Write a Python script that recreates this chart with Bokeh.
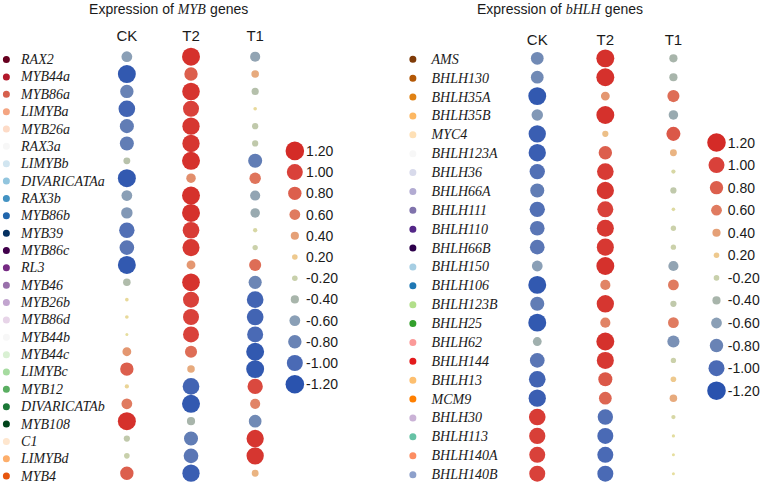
import numpy as np
from bokeh.plotting import figure
from bokeh.models import ColumnDataSource, Range1d
from bokeh.core.properties import value
from bokeh.embed import file_html
from bokeh.resources import INLINE

# ---------------- data ----------------
conditions = ["CK", "T2", "T1"]

myb_genes = ["RAX2", "MYB44a", "MYB86a", "LIMYBa", "MYB26a", "RAX3a", "LIMYBb",
             "DIVARICATAa", "RAX3b", "MYB86b", "MYB39", "MYB86c", "RL3", "MYB46",
             "MYB26b", "MYB86d", "MYB44b", "MYB44c", "LIMYBc", "MYB12",
             "DIVARICATAb", "MYB108", "C1", "LIMYBd", "MYB4"]
myb_ck = [-0.60, -1.15, -0.80, -1.05, -0.85, -0.85, -0.30, -1.15, -0.60, -0.65,
          -0.95, -0.90, -1.15, -0.35, 0.05, 0.05, 0.00, 0.45, 0.80, 0.10,
          0.60, 1.15, -0.25, -0.20, 0.80]
myb_t2 = [1.15, 0.80, 1.12, 1.00, 1.10, 1.10, 1.15, 0.50, 1.15, 1.15,
          1.05, 1.08, 0.45, 1.13, 1.00, 1.00, 1.00, 0.70, 0.35, -1.05,
          -1.15, -0.40, -0.85, -0.90, -1.10]
myb_t1 = [-0.55, 0.35, -0.32, 0.05, -0.25, -0.25, -0.85, 0.65, -0.55, -0.50,
          -0.10, -0.18, 0.70, -0.78, -1.05, -1.05, -1.00, -1.15, -1.15, 0.95,
          0.55, -0.75, 1.10, 1.10, 0.30]
myb_dot_colors = ["#67001f", "#b2182b", "#d6604d", "#f4a582", "#fddbc7", "#f7f7f7",
                  "#d1e5f0", "#92c5de", "#4393c3", "#2166ac", "#053061", "#40004b",
                  "#762a83", "#9970ab", "#c2a5cf", "#e7d4e8", "#f7f7f7", "#d9f0d3",
                  "#a6dba0", "#5aae61", "#1b7837", "#00441b", "#fee6ce", "#fdae6b",
                  "#e6550d"]

bhlh_genes = ["AMS", "BHLH130", "BHLH35A", "BHLH35B", "MYC4", "BHLH123A", "BHLH36",
              "BHLH66A", "BHLH111", "BHLH110", "BHLH66B", "BHLH150", "BHLH106",
              "BHLH123B", "BHLH25", "BHLH62", "BHLH144", "BHLH13", "MCM9",
              "BHLH30", "BHLH113", "BHLH140A", "BHLH140B"]
bhlh_ck = [-0.75, -0.75, -1.15, -0.65, -1.10, -1.10, -0.95, -0.85, -0.95, -0.90,
           -0.90, -0.60, -1.15, -0.85, -1.15, -0.45, -0.90, -1.05, -1.10,
           1.05, 1.02, 1.00, 1.00]
bhlh_t2 = [1.15, 1.15, 0.45, 1.15, 0.25, 0.80, 1.05, 1.10, 1.00, 1.08,
           1.08, 1.15, 0.55, 1.10, 0.55, 1.15, 1.08, 0.85, 0.75,
           -0.95, -1.00, -1.00, -1.00]
bhlh_t1 = [-0.40, -0.40, 0.70, -0.50, 0.85, 0.30, -0.10, -0.25, -0.05, -0.18,
           -0.18, -0.55, 0.60, -0.25, 0.60, -0.70, -0.18, 0.20, 0.35,
           -0.10, -0.02, 0.00, 0.00]
bhlh_dot_colors = ["#7f3b08", "#b35806", "#e08214", "#fdb863", "#fee0b6", "#f7f7f7",
                   "#d8daeb", "#b2abd2", "#8073ac", "#542788", "#2d004b",
                   "#a6cee3", "#1f78b4", "#b2df8a", "#33a02c", "#fb9a99", "#e31a1c",
                   "#fdbf6f", "#ff7f00", "#cab2d6", "#66c2a5", "#fc8d62", "#8da0cb"]

legend_values = [1.2, 1.0, 0.8, 0.6, 0.4, 0.2, -0.2, -0.4, -0.6, -0.8, -1.0, -1.2]
legend_labels = ["1.20", "1.00", "0.80", "0.60", "0.40", "0.20",
                 "-0.20", "-0.40", "-0.60", "-0.80", "-1.00", "-1.20"]

# ---------------- style helpers ----------------
anchor_v = [-1.2, -1.0, -0.8, -0.6, -0.4, -0.2, 0.0, 0.2, 0.4, 0.6, 0.8, 1.0, 1.2]
anchor_c = ["#2a53ae", "#4a6ab5", "#6983b5", "#8a9fb6", "#a8b5ab", "#c8d0ab", "#e6de9e",
            "#eec98e", "#e5a077", "#e07b60", "#dc5f4d", "#d9413a", "#d42b27"]
anchor_rgb = np.array([[int(c[i:i + 2], 16) for i in (1, 3, 5)] for c in anchor_c], float)


def vcolor(v):
    rgb = [np.interp(v, anchor_v, anchor_rgb[:, k]) for k in range(3)]
    return "#%02x%02x%02x" % tuple(int(round(x)) for x in rgb)


def vsize(v):
    return 3.0 + 13.0 * abs(v)


SANS = value("Liberation Sans")
SERIF = value("Liberation Serif")
TXT = "#1a1a1a"

p = figure(width=764, height=484, output_backend="svg", toolbar_location=None,
           x_range=Range1d(0, 780), y_range=Range1d(502, 0),
           x_axis_type=None, y_axis_type=None, min_border=0)
p.outline_line_color = None
p.xgrid.visible = False
p.ygrid.visible = False


def panel(genes, ck, t2, t1, dot_colors, col_x0, col_dx, header_y, row_y0, row_dy,
          label_dy, dot_x, text_x, title_x, title_word, title_word_w, title_y,
          leg_x, leg_y0, leg_dy):
    n = len(genes)
    rows_y = [row_y0 + i * row_dy for i in range(n)]
    # circles
    xs, ys, sz, cl = [], [], [], []
    for j, series in enumerate([ck, t2, t1]):
        for i, v in enumerate(series):
            xs.append(col_x0 + j * col_dx)
            ys.append(rows_y[i])
            sz.append(vsize(v))
            cl.append(vcolor(v))
    p.scatter(x="x", y="y", size="s", fill_color="c", line_color=None,
              source=ColumnDataSource(dict(x=xs, y=ys, s=sz, c=cl)))
    # headers
    p.text(x=[col_x0 + j * col_dx for j in range(3)], y=[header_y] * 3, text=conditions,
           text_align="center", text_baseline="middle", text_font=SANS,
           text_font_size="15px", text_color=TXT)
    # gene labels
    ly = [y + label_dy for y in rows_y]
    p.scatter(x=[dot_x] * n, y=ly, size=7, fill_color=dot_colors, line_color=None)
    p.text(x=[text_x] * n, y=ly, text=genes, text_align="left", text_baseline="middle",
           text_font=SERIF, text_font_style="italic", text_font_size="14px",
           text_color=TXT)
    # title
    p.text(x=[title_x], y=[title_y], text=["Expression of"], text_align="right",
           text_baseline="middle", text_font=SANS, text_font_size="14px", text_color=TXT)
    p.text(x=[title_x + 4], y=[title_y], text=[title_word], text_align="left",
           text_baseline="middle", text_font=SERIF, text_font_style="italic",
           text_font_size="14px", text_color=TXT)
    p.text(x=[title_x + 4 + title_word_w + 4], y=[title_y], text=["genes"], text_align="left",
           text_baseline="middle", text_font=SANS, text_font_size="14px", text_color=TXT)
    # legend
    lys = [leg_y0 + k * leg_dy for k in range(len(legend_values))]
    p.scatter(x=[leg_x] * len(lys), y=lys, size=[vsize(v) for v in legend_values],
              fill_color=[vcolor(v) for v in legend_values], line_color=None)
    p.text(x=[leg_x + 11.5] * len(lys), y=lys, text=legend_labels, text_align="left",
           text_baseline="middle", text_font=SANS, text_font_size="14px", text_color=TXT)


panel(myb_genes, myb_ck, myb_t2, myb_t1, myb_dot_colors,
      col_x0=129, col_dx=65.5, header_y=36, row_y0=58.3, row_dy=18.0, label_dy=3,
      dot_x=6, text_x=21, title_x=177, title_word="MYB", title_word_w=29, title_y=9,
      leg_x=300.5, leg_y0=156, leg_dy=22)

panel(bhlh_genes, bhlh_ck, bhlh_t2, bhlh_t1, bhlh_dot_colors,
      col_x0=548, col_dx=69.5, header_y=40, row_y0=60, row_dy=19.58, label_dy=1,
      dot_x=421, text_x=440, title_x=573, title_word="bHLH", title_word_w=36, title_y=9,
      leg_x=731, leg_y0=147.3, leg_dy=23.4)

open("out.html", "w").write(file_html(p, INLINE))
